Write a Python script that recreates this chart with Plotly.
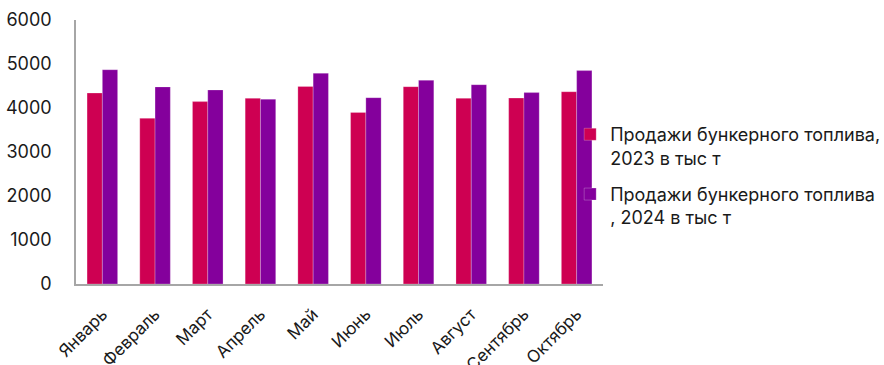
import plotly.graph_objects as go

months = ["Январь", "Февраль", "Март", "Апрель", "Май", "Июнь", "Июль", "Август", "Сентябрь", "Октябрь"]
sales_2023 = [4340, 3765, 4145, 4220, 4490, 3900, 4485, 4220, 4225, 4370]
sales_2024 = [4870, 4480, 4410, 4200, 4790, 4235, 4630, 4530, 4350, 4850]
name_2023 = "Продажи бункерного топлива,<br>2023 в тыс т"
name_2024 = "Продажи бункерного топлива<br>, 2024 в тыс т"
y_ticks = [0, 1000, 2000, 3000, 4000, 5000, 6000]

FONT = "Inter"

fig = go.Figure()
fig.add_trace(go.Bar(x=months, y=sales_2023, name=name_2023, marker_color="#CE0052",
                     legendgroup="a",
                     marker_line=dict(color="rgba(255,255,255,0.4)", width=0.6)))
fig.add_trace(go.Bar(x=months, y=sales_2024, name=name_2024, marker_color="#84009C",
                     legendgroup="b",
                     marker_line=dict(color="rgba(255,255,255,0.4)", width=0.6)))

fig.update_layout(
    width=884, height=365,
    margin=dict(l=76, r=281, t=20, b=81, autoexpand=False),
    paper_bgcolor="white", plot_bgcolor="white",
    barmode="group", bargap=0.42, bargroupgap=0,
    font=dict(family=FONT, color="#1a1a1a", size=18),
    legend=dict(
        xref="container", yref="container",
        x=0.645, xanchor="left", y=0.682, yanchor="top",
        font=dict(size=18, color="#1a1a1a"),
        valign="top", tracegroupgap=10, itemwidth=30,
        bgcolor="rgba(0,0,0,0)",
    ),
    showlegend=True,
)
fig.update_xaxes(showline=True, linecolor="#a6a6a6", linewidth=1.5, ticks="",
                 tickangle=-45, tickfont=dict(size=17), showgrid=False,
                 ticklabelstandoff=12)
fig.update_yaxes(range=[0, 6000], tickvals=y_ticks, showline=True, linecolor="#a6a6a6",
                 linewidth=1.5, ticks="", showgrid=False, zeroline=False,
                 tickfont=dict(size=18), ticklabelstandoff=19)

fig.write_html("out.html")
